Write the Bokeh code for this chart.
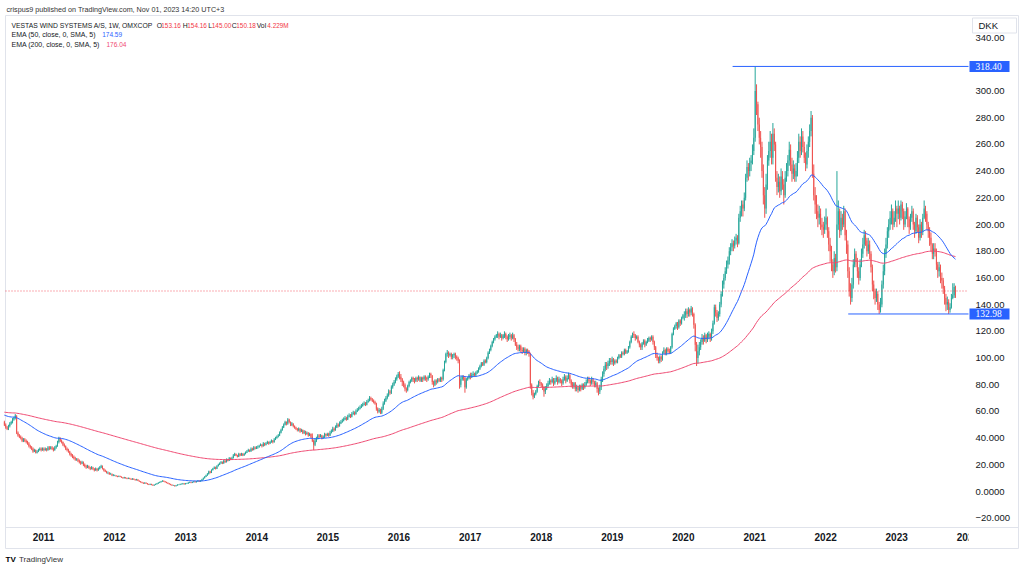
from datetime import datetime, timedelta
from bokeh.plotting import figure
from bokeh.models import Range1d, FixedTicker, DatetimeTickFormatter, Label, ColumnDataSource, BoxAnnotation
from bokeh.embed import file_html
from bokeh.resources import INLINE

# ---------------- data (weekly candles) ----------------
FIRST_WEEK = datetime(2010, 6, 14)
FIRST_OPEN = 52.0
EMA50_SEED = 57.5
EMA200_SEED = 59.5

c2010 = [50,48,47,49,51,52,54,55,57,44,42,41,40,38,39,38,37,36,34,33,32,30,31,29,30,31,32,31,32]
h2010 = [53,51,49,50,52,53,55,56,58,57,45,43,42,41,40,40,39,38,37,35,34,33,32,31.5,31,32,33,33,33]
l2010 = [49,47,46,46,48,50,51,53,54,43,41,40,39,37,37,37,36,35,33,32,31,29,29.5,28.5,28.5,29.5,30.5,30,30.5]

c2011 = [31,32,31,33,32,33,32,31,33,34,37,40,38,37,35,34,32,31,30,28,27,26,25,24,24,23,22,21,22,20,19,18,19,18,17,18,17,16,17,16,17,18,19,17,16,15,14,14,13,13,12,12]
h2011 = [33,33,32.5,34,34,34,34,33,34,35,38,41,40.5,39,37.5,36,34.5,33,32,30.5,29,28,27,26,25,25,24,23,23,22.5,21,20,20,19.5,18.5,19,18.5,17.5,18,17.5,18,19,20,19.5,17.5,16.5,15.5,15,14.5,14,13.5,13]
l2011 = [30,30.5,30,30.5,31,31.5,31,30,30.5,32,33.5,36,37,36,34,33,31,30,29,27,26,25,24,23,23,22,21,20,20.5,19,18,17,17.5,17,16,16.5,16,15,15.5,15,15.5,16.5,17.5,16.5,15,14.5,13.5,13,12.5,12.5,11.5,11.5]

c2012 = [12,11.5,11,11.5,11,10.5,10,10.5,10,9.5,10,9.5,9,9.5,9,8.5,9,8,7.5,7,6.5,6,6.5,6,5.5,5,5.5,5,4.5,5,5.5,6,6.5,7,7.5,8,7.5,7,6.5,6,5.5,5,4.5,4.5,4,4.5,5,5,5.5,5.5,6,5.5,6]
h2012 = [12.6,12.2,11.8,12,11.8,11.3,10.8,11,10.8,10.3,10.5,10.3,9.8,10,9.8,9.3,9.5,9.2,8.3,7.8,7.3,6.8,6.9,6.8,6.3,5.8,5.9,5.8,5.3,5.3,5.9,6.4,6.9,7.4,7.9,8.4,8.2,7.8,7.3,6.8,6.3,5.8,5.3,5,4.8,4.9,5.4,5.4,5.9,6,6.4,6.2,6.4]
l2012 = [11.5,11.1,10.7,10.8,10.7,10.2,9.7,9.8,9.7,9.2,9.3,9.2,8.7,8.8,8.7,8.2,8.3,7.8,7.2,6.7,6.2,5.7,5.8,5.7,5.2,4.8,4.8,4.7,4.3,4.3,4.8,5.3,5.8,6.3,6.8,7.3,7.2,6.7,6.2,5.7,5.2,4.7,4.3,4.2,3.8,3.9,4.4,4.7,4.8,5.2,5.3,5.2,5.3]

c2013 = [6,6.5,7,6.5,7,7.5,7,7.5,8,7.5,8,9,10,11,12,13,15,14,16,17,18,17,19,20,21,22,21,23,22,24,23,25,24,25,27,28,27,26,28,27,28,27,28,29,30,31,30,32,31,33,32,33]
h2013 = [6.5,7,7.4,7.2,7.4,7.9,7.8,7.9,8.5,8.3,8.5,9.5,10.5,11.5,12.6,13.8,15.6,15.5,16.6,17.7,18.8,18.6,19.7,20.8,21.8,22.8,22.5,23.8,23.5,24.8,24.5,25.8,25.5,26,28,29,28.5,27.5,29,28.8,29,28.8,29,30,31,32,31.5,33,32.8,34,33.8,34]
l2013 = [5.6,5.8,6.3,6.2,6.3,6.8,6.7,6.8,7.3,7.2,7.3,7.8,8.8,9.8,10.8,11.8,12.8,13.6,13.8,15.8,16.8,16.5,16.8,18.8,19.8,20.8,20.5,20.8,21.5,21.8,22.5,22.8,23.5,23.8,24.8,26.5,26.5,25.5,25.8,26.5,26.8,26.5,26.8,27.8,28.8,29.8,29.5,29.8,30.5,30.8,31.5,31.8]

c2014 = [33,34,35,34,36,35,36,37,36,37,38,37,39,40,41,42,44,46,48,50,52,51,54,52,50,51,49,48,47,46,47,45,46,44,45,43,44,42,43,41,38,35,38,40,42,41,42,40,41,43,42,43]
h2014 = [34.5,35,36,35.5,37,36.5,37,38,37.5,38,39,38.5,40,41,42,43,45,47,49,51,53,52.5,55,54.5,52.5,52,51,49.5,48.5,47.5,48,47.5,47,46.5,46,45.5,45,44.5,44,43.5,43.5,39,39.5,41,43,43,43,42.5,42,44,43.5,44]
l2014 = [32,33,34,33,33.5,34,34.5,35.5,35,35.5,36.5,36,36.5,38.5,39.5,40.5,41.5,43.5,45.5,47.5,49.5,49.5,50,51,49,49,48,47,46,45,45,44,44.5,43,43,42,42.5,41,41.5,40,37,31,34,37,39,40,40.5,39,39.5,40,41,41.5]

c2015 = [42,44,45,47,46,48,50,49,51,52,53,54,55,54,56,57,56,58,59,58,60,61,62,63,64,65,66,65,67,68,70,69,68,67,66,62,60,61,59,62,66,68,70,72,75,74,78,80,82,84,86,88]
h2015 = [44,45.5,46.5,48.5,48,49.5,51.5,51,52.5,53.5,54.5,55.5,56.5,56,57.5,58.5,58,59.5,60.5,60,61.5,62.5,63.5,64.5,65.5,66.5,67.5,67,68.5,69.5,71.5,71,70,69,68,66.5,63,62.5,62,63.5,67.5,69.5,71.5,73.5,76.5,76,79.5,81.5,83.5,85.5,87.5,89.5]
l2015 = [41,41.5,43.5,44.5,45,45.5,47.5,48,48.5,50.5,51.5,52.5,53.5,53,53.5,55.5,55,55.5,57.5,57,57.5,59.5,60.5,61.5,62.5,63.5,64.5,64,64.5,66.5,67.5,68,67,66,65,60.5,58.5,59,58,58,61,65,67,69,71,72.5,73,77,79,81,83,85]

c2016 = [86,84,82,80,77,76,79,82,83,85,84,83,85,84,86,83,85,84,86,85,84,86,88,87,82,80,83,82,84,83,85,84,91,97,103,104,102,103,101,102,103,101,100,98,80,84,86,85,78,84,85,87]
h2016 = [90,88,85,83,81,78,80,83,84,86,86,85,86,86,87,86,86,86,87,87,86,87,89,89,87,83,84,84,85,85,86,86,92,98,104,106,105,104,104,103,104,104,102,101,99,86,87,87,86,85,86,88]
l2016 = [84,82,79,78,75,74,75,78,81,82,82,81,82,82,83,82,82,82,83,83,82,83,85,85,80,78,79,80,81,82,82,82,83,90,96,101,100,101,99,99,100,99,98,96,77,78,83,83,74,77,83,84]

c2017 = [86,87,88,87,89,90,92,94,96,95,98,97,100,104,106,109,112,114,116,117,118,116,117,115,117,118,116,114,116,117,115,117,114,110,108,107,109,106,105,107,104,106,105,103,80,74,71,73,75,79,82,81]
h2017 = [89,89,90,89,90,91,93,95,97,97,99,99,101,105,107,110,113,115,117,118,120,119,119,118,118,120,119,117,118,119,118,119,118,115,112,110,110,110,108,108,108,107,107,106,104,81,76,74,76,80,83,84]
l2017 = [84,85,86,86,86,88,89,91,93,94,94,96,96,99,103,105,108,111,113,115,115,114,115,113,114,115,114,112,113,114,113,114,112,109,106,105,105,104,103,104,102,102,103,101,77,72,69,70,72,74,78,79]

c2018 = [80,78,75,77,79,81,83,82,84,81,83,85,82,84,83,81,84,86,83,85,87,83,80,79,81,77,78,76,79,77,80,78,80,82,84,83,81,84,82,80,81,77,75,78,84,88,92,95,94,96,98,97,99]
h2018 = [82,81,79,79,81,83,85,84,86,85,85,87,86,86,85,84,86,88,87,87,89,88,84,82,82,82,80,79,80,80,81,81,82,84,86,86,84,86,85,83,83,82,78,80,86,90,94,97,97,98,100,100,101]
l2018 = [78,76,71,73,76,78,80,80,81,79,80,82,80,81,81,79,80,83,81,82,84,81,78,77,77,75,75,74,75,75,76,76,77,79,81,81,79,80,80,78,78,74,72,73,76,82,86,90,91,92,94,95,95]

c2019 = [96,98,97,100,102,101,104,103,106,104,105,108,112,116,118,117,115,116,112,110,108,111,113,110,112,113,115,114,116,112,108,102,100,98,101,99,104,106,103,107,105,104,108,118,122,124,126,123,128,126,130,132]
h2019 = [100,99,99,101,103,103,105,105,107,107,106,109,113,117,119,120,118,117,117,113,111,112,114,114,113,115,116,116,117,117,113,109,104,101,102,102,105,108,107,108,108,107,109,119,123,125,127,127,129,129,131,133]
l2019 = [94,95,96,96,99,100,100,102,102,103,103,104,107,111,115,115,113,114,111,108,106,106,110,108,109,111,112,112,113,110,106,100,98,96,96,97,98,103,102,102,104,103,103,107,117,121,122,121,122,124,125,129]

c2020 = [132,135,133,136,134,137,133,125,110,100,105,108,112,115,113,117,114,116,118,115,120,126,138,134,130,133,140,148,155,160,165,170,173,180,183,186,184,188,190,186,205,210,215,212,220,235,243,240,246,248,255,265]
h2020 = [135,137,137,138,137,139,138,134,126,112,110,112,114,118,117,119,118,119,120,119,122,128,140,140,136,135,142,150,158,163,168,173,176,183,186,189,188,191,193,192,208,214,218,218,224,238,248,246,250,252,260,272]
l2020 = [128,130,130,131,131,132,131,122,105,94,96,102,106,110,110,112,111,112,114,112,113,118,125,131,127,128,131,138,146,152,158,163,167,170,177,180,180,182,185,183,185,202,206,206,210,218,232,233,236,240,245,252]

c2021 = [300,290,275,265,258,240,222,212,230,248,255,262,250,268,260,235,228,232,225,236,230,222,235,240,248,256,245,238,242,236,240,250,262,255,266,258,250,245,255,262,270,280,238,222,215,210,205,208,200,198,196,200]
h2021 = [318.4,305,292,280,270,262,245,228,238,252,262,270,268,276,272,262,240,238,236,242,240,234,240,246,252,262,260,250,248,245,246,255,268,266,272,270,262,254,260,266,275,285,282,245,228,222,215,214,212,205,202,206]
l2021 = [262,282,270,260,250,235,215,205,208,226,244,250,245,245,255,232,222,224,220,222,226,215,220,232,236,244,240,232,234,232,232,236,246,250,252,254,246,240,242,250,258,266,235,218,208,204,198,200,196,192,190,193]

c2022 = [205,195,185,180,170,165,175,168,200,210,195,205,200,210,192,185,165,150,145,155,170,178,172,165,160,170,178,185,192,188,180,185,178,168,155,150,145,148,140,136,140,155,165,178,185,195,200,205,210,200,205,212]
h2022 = [212,206,198,190,184,174,180,178,240,218,212,210,208,214,212,196,188,168,156,160,174,182,180,175,168,174,182,190,196,195,190,190,188,180,170,158,152,152,150,142,145,158,170,182,190,198,204,210,215,212,210,218]
l2022 = [196,190,180,172,165,160,162,164,165,196,190,192,196,198,188,178,160,146,140,142,152,168,168,160,155,158,168,175,182,184,176,178,174,164,150,144,140,142,136,133,134,138,152,162,175,182,190,196,200,196,198,202]

c2023 = [208,212,205,215,210,200,206,212,204,198,205,210,200,195,205,198,190,200,195,205,212,208,200,195,190,185,178,182,180,170,165,168,160,158,152,145,140,142,136,138,145,147,153.16,150.18]
h2023 = [214,218,214,218,217,212,210,216,213,206,208,214,212,202,208,207,200,204,202,208,218,214,210,202,198,194,186,186,186,182,172,172,170,164,160,154,148,146,144,141,148,156,156,154.16]
l2023 = [198,204,200,203,204,196,198,204,198,193,196,202,196,190,193,194,186,188,190,192,204,202,196,190,184,180,174,174,176,166,160,161,156,152,148,140,135,136,133,134,137,144,145,145.00]

# drawn price levels and last values
level_high = 318.40
level_low = 132.98
last_close = 150.18
level_high_from = datetime(2020, 9, 10)
level_low_from = datetime(2022, 4, 27)

year_ticks = list(range(2011, 2025))
year_labels = [str(y) for y in year_ticks]
y_ticks = [-20, 0, 20, 40, 60, 80, 100, 120, 140, 160, 180, 200, 220, 240, 260, 280, 300, 340]
y_tick_labels = ["\u221220.000", "0.0000", "20.000", "40.000", "60.00", "80.00", "100.00", "120.00",
                 "140.00", "160.00", "180.00", "200.00", "220.00", "240.00", "260.00", "280.00",
                 "300.00", "340.00"]

header_text = "crispus9 published on TradingView.com, Nov 01, 2023 14:20 UTC+3"
symbol_text = "VESTAS WIND SYSTEMS A/S, 1W, OMXCOP"
ohlc_parts = [("O", "153.16"), ("H", "154.16"), ("L", "145.00"), ("C", "150.18"), ("Vol", "4.229M")]
ema50_text, ema50_value = "EMA (50, close, 0, SMA, 5)", "174.59"
ema200_text, ema200_value = "EMA (200, close, 0, SMA, 5)", "176.04"
currency_text = "DKK"

# ---------------- build series ----------------
closes = c2010 + c2011 + c2012 + c2013 + c2014 + c2015 + c2016 + c2017 + c2018 + c2019 + c2020 + c2021 + c2022 + c2023
highs = h2010 + h2011 + h2012 + h2013 + h2014 + h2015 + h2016 + h2017 + h2018 + h2019 + h2020 + h2021 + h2022 + h2023
lows = l2010 + l2011 + l2012 + l2013 + l2014 + l2015 + l2016 + l2017 + l2018 + l2019 + l2020 + l2021 + l2022 + l2023
n = min(len(closes), len(highs), len(lows))
closes, highs, lows = closes[:n], highs[:n], lows[:n]
opens = [FIRST_OPEN] + closes[:n - 1]
highs = [max(h, o, c) for h, o, c in zip(highs, opens, closes)]
lows = [min(l, o, c) for l, o, c in zip(lows, opens, closes)]

EPOCH = datetime(1970, 1, 1)
def ms(d):
    return (d - EPOCH).total_seconds() * 1000.0

WEEK_MS = 7 * 24 * 3600 * 1000.0
dates = [ms(FIRST_WEEK + timedelta(weeks=i)) for i in range(n)]

def ema(vals, length, seed):
    a = 2.0 / (length + 1)
    e = seed
    out = []
    for v in vals:
        e = e + a * (v - e)
        out.append(e)
    return out

ema50 = ema(closes, 50, EMA50_SEED)
ema200 = ema(closes, 200, EMA200_SEED)

UP, DOWN = "#26a69a", "#ef5350"
colors = [UP if c >= o else DOWN for o, c in zip(opens, closes)]
src = ColumnDataSource(dict(x=dates, open=opens, close=closes, high=highs, low=lows,
                            top=[max(o, c) for o, c in zip(opens, closes)],
                            bottom=[min(o, c) for o, c in zip(opens, closes)],
                            color=colors))

# ---------------- geometry (screenshot pixel calibration) ----------------
W, H = 1024, 568
REF_YEAR0 = datetime(2011, 1, 1)
REF_YEAR0_PX = 43.0
PX_PER_DAY = 71.1 / 365.25
REF_ZERO_PX = 491.0
PX_PER_UNIT = 1.335

def x_at(px):
    return ms(REF_YEAR0 + timedelta(days=(px - REF_YEAR0_PX) / PX_PER_DAY))

def y_at(py):
    return (REF_ZERO_PX - py) / PX_PER_UNIT

FONT = "Liberation Sans"
TXT = "#131722"
GRID = "#e0e3eb"
BLUE = "#2962ff"
PINK = "#ef4a72"
RED = "#f23645"
PANE_RIGHT_PX = 968

p = figure(width=W, height=H, output_backend="svg", toolbar_location=None,
           x_axis_type="datetime", y_axis_location="right", title=None,
           x_range=Range1d(x_at(0), x_at(W)), y_range=Range1d(y_at(H), y_at(0)),
           min_border_left=0, min_border_right=0, min_border_top=0, min_border_bottom=0)
p.outline_line_color = None
p.grid.visible = False
p.background_fill_color = "white"
p.border_fill_color = "white"

# chart box and separator
p.quad(left=[x_at(5)], right=[x_at(1018)], top=[y_at(15)], bottom=[y_at(548)],
       fill_color=None, line_color=GRID, line_width=1)
p.segment(x0=[x_at(5)], y0=[y_at(527)], x1=[x_at(1018)], y1=[y_at(527)], line_color=GRID, line_width=1)

# candles
p.segment(x0="x", y0="low", x1="x", y1="high", line_color="color", line_width=1, source=src)
p.vbar(x="x", width=WEEK_MS * 0.7, top="top", bottom="bottom", fill_color="color",
       line_color=None, source=src)

# EMAs
p.line(dates, ema200, line_color=PINK, line_width=1)
p.line(dates, ema50, line_color=BLUE, line_width=1)

# current price dotted line
x_end = x_at(PANE_RIGHT_PX)
p.segment(x0=[x_at(5)], y0=[last_close], x1=[x_end], y1=[last_close], line_color=RED,
          line_dash="1 2", line_width=1, line_alpha=0.8)

# drawn horizontal levels
p.segment(x0=[ms(level_high_from), ms(level_low_from)], y0=[level_high, level_low],
          x1=[x_end, x_end], y1=[level_high, level_low], line_color=BLUE, line_width=1)

# axes (placed inside the canvas at the pane edges)
xa = p.xaxis[0]
xa.fixed_location = y_at(527)
xa.ticker = FixedTicker(ticks=[ms(datetime(y, 1, 1)) for y in year_ticks])
xa.formatter = DatetimeTickFormatter(years="%Y", months="%Y", days="%Y", hours="%Y",
                                     hourmin="%Y", minutes="%Y", minsec="%Y", seconds="%Y",
                                     milliseconds="%Y", microseconds="%Y")
xa.major_label_overrides = {int(ms(datetime(y, 1, 1))): lab for y, lab in zip(year_ticks, year_labels)}
xa.axis_line_color = None
xa.major_tick_out = 0
xa.major_tick_in = 0
xa.minor_tick_out = 0
xa.minor_tick_in = 0
xa.major_label_standoff = 5
xa.major_label_text_font = FONT
xa.major_label_text_font_size = "10px"
xa.major_label_text_font_style = "bold"
xa.major_label_text_color = TXT

ya = p.yaxis[0]
ya.fixed_location = x_at(PANE_RIGHT_PX)
ya.ticker = FixedTicker(ticks=y_ticks)
ya.major_label_overrides = {t: lab for t, lab in zip(y_ticks, y_tick_labels)}
ya.axis_line_color = None
ya.major_tick_out = 0
ya.major_tick_in = 0
ya.minor_tick_out = 0
ya.minor_tick_in = 0
ya.major_label_standoff = 7
ya.major_label_text_font = FONT
ya.major_label_text_font_size = "9.5px"
ya.major_label_text_color = TXT

# the price scale covers the time axis at its right end
p.add_layout(BoxAnnotation(left=x_at(PANE_RIGHT_PX), right=x_at(1017), bottom=y_at(546),
                           top=y_at(528), fill_color="white", fill_alpha=1.0, line_color=None))

def label(text, px, py, color=TXT, size="7px", style="normal", **kw):
    p.add_layout(Label(x=x_at(px), y=y_at(py), text=text, text_color=color, text_font=FONT,
                       text_font_size=size, text_font_style=style, text_baseline="middle",
                       text_align="left", **kw))

# header
label(header_text, 6, 9, color="#333333", size="7.2px")

# legend
label(symbol_text, 11, 24.5, size="6.8px")
ohlc_x = [(156.2, 160.8), (182.2, 186.8), (207.8, 211.3), (231.2, 235.8), (256.2, 266.8)]
for (k, v), (kx, vx) in zip(ohlc_parts, ohlc_x):
    label(k, kx, 24.5, size="6.8px")
    label(v, vx, 24.5, color=RED, size="6.4px")
label(ema50_text, 11, 34)
label(ema50_value, 101.7, 34, color=BLUE, size="6.5px")
label(ema200_text, 11, 43.5)
label(ema200_value, 106, 43.5, color=PINK, size="6.5px")

# price tags on the scale
for lvl in (level_high, level_low):
    p.rect(x=[x_at(989)], y=[lvl], width=40, height=11, width_units="screen",
           height_units="screen", fill_color=BLUE, line_color=None)
    p.text(x=[x_at(975)], y=[lvl], text=["%.2f" % lvl], text_color="white", text_font_size="9.5px",
           text_baseline="middle", text_align="left", text_font="Liberation Sans")

# currency box
p.rect(x=[x_at(994)], y=[y_at(25)], width=44, height=15, width_units="screen",
       height_units="screen", fill_color="white", line_color=GRID)
label(currency_text, 978, 25, size="9.5px")

# footer logo
label("TV", 5, 559, color="#000000", size="8px", style="bold")
label("TradingView", 18.5, 559, color="#333333", size="8px")

open("out.html", "w").write(file_html(p, INLINE))
